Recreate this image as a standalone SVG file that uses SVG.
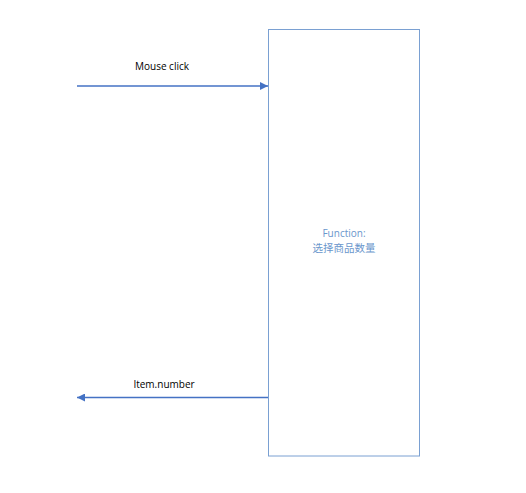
<svg xmlns="http://www.w3.org/2000/svg" width="526" height="493" viewBox="0 0 526 493">
<style>
.lbl{font-family:"Open Sans","Liberation Sans","Noto Sans CJK SC",sans-serif;font-size:10px;fill:#000;text-anchor:middle}
.fn{font-family:"Open Sans","Liberation Sans","Noto Sans CJK SC",sans-serif;font-size:10px;fill:#6a96cc;text-anchor:middle}
.cjk{font-size:10.5px}
.conn{stroke:#4472c4;stroke-width:1.3;fill:none}
</style>
<defs>
<marker id="ah" viewBox="0 0 10 10" refX="10" refY="5" markerWidth="9" markerHeight="8" markerUnits="userSpaceOnUse" orient="auto">
<path d="M0,0 L10,5 L0,10 z" fill="#4472c4"/>
</marker>
</defs>
<rect width="526" height="493" fill="#fff"/>
<g id="function">
<rect x="268.5" y="29.5" width="151" height="426.5" fill="#fff" stroke="#7aa0d2" stroke-width="1"/>
<text class="fn" x="344" y="237">Function:</text>
<text class="fn cjk" x="344" y="252">选择商品数量</text>
</g>
<g id="connectors">
<line class="conn" x1="77" y1="86" x2="268" y2="86" marker-end="url(#ah)"/>
<text class="lbl" x="162" y="70">Mouse click</text>
<line class="conn" x1="268" y1="397.5" x2="77" y2="397.5" marker-end="url(#ah)"/>
<text class="lbl" x="164" y="388">Item.number</text>
</g>
</svg>
